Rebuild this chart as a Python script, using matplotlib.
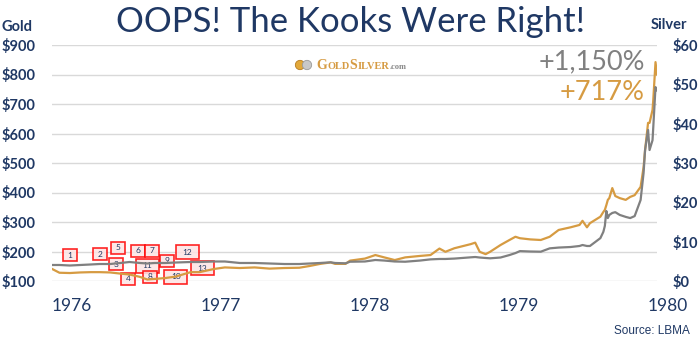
import matplotlib.pyplot as plt
from matplotlib.patches import Rectangle

# readings (decimal year, gold $/oz, silver $/oz)
years = [1976.00, 1976.05, 1976.12, 1976.19, 1976.26, 1976.32, 1976.39, 1976.46,
         1976.52, 1976.59, 1976.64, 1976.69, 1976.76, 1976.83, 1976.93, 1976.99,
         1977.09, 1977.16, 1977.26, 1977.36, 1977.46, 1977.56, 1977.66, 1977.73,
         1977.80, 1977.87, 1977.90, 1977.97, 1978.00, 1978.10, 1978.17, 1978.23,
         1978.30, 1978.37, 1978.47, 1978.54, 1978.60, 1978.64, 1978.70, 1978.81,
         1978.84, 1978.87, 1978.91, 1978.94, 1979.01, 1979.07, 1979.11, 1979.14,
         1979.21, 1979.28, 1979.34, 1979.40, 1979.48, 1979.54, 1979.56, 1979.59,
         1979.61, 1979.68, 1979.70, 1979.71, 1979.72, 1979.73, 1979.74, 1979.76,
         1979.78, 1979.81, 1979.85, 1979.88, 1979.91, 1979.95, 1979.97, 1979.98,
         1980.00, 1980.01, 1980.03, 1980.035, 1980.05, 1980.06]
gold = [141, 128, 127, 129, 130, 130, 129, 125, 122, 114, 105, 107, 110, 115,
        130, 130, 141, 146, 144, 146, 142, 144, 145, 151, 158, 163, 158, 158,
        169, 176, 188, 180, 171, 180, 185, 188, 210, 199, 211, 225, 230, 199,
        191, 199, 222, 239, 250, 245, 241, 239, 250, 273, 282, 290, 304, 282,
        296, 318, 334, 341, 357, 375, 381, 415, 388, 381, 375, 385, 391, 419,
        486, 544, 636, 636, 680, 714, 842, 800]
silver = [4.07, 4.07, 3.94, 4.07, 4.20, 4.32, 4.32, 4.58, 4.83, 4.58, 4.45, 4.58,
          4.58, 4.70, 4.83, 4.83, 4.96, 4.96, 4.58, 4.58, 4.45, 4.32, 4.32, 4.45,
          4.58, 4.75, 4.58, 4.50, 4.90, 4.96, 5.34, 5.20, 4.96, 4.90, 5.20, 5.50,
          5.60, 5.60, 5.70, 6.02, 6.10, 5.97, 5.85, 5.77, 5.97, 6.60, 7.10, 7.60,
          7.50, 7.45, 8.30, 8.50, 8.64, 8.90, 9.15, 8.90, 8.90, 10.9, 12.5, 14.0,
          17.8, 16.0, 16.8, 17.3, 17.5, 16.8, 16.3, 16.0, 16.5, 20.6, 27.5, 33.3,
          38.4, 33.3, 35.8, 39.1, 49.3, 48.5]

# numbered event boxes (label, decimal year, gold $ at box centre)
box_labels = ['1', '2', '5', '3', '6', '7', '11', '4', '8', '9', '10', '12', '13']
box_years = [1976.12, 1976.32, 1976.44, 1976.43, 1976.58, 1976.67, 1976.64,
             1976.51, 1976.66, 1976.77, 1976.83, 1976.91, 1977.01]
box_gold = [188, 191, 212, 156, 202, 202, 151, 107, 114, 168, 114, 198, 144]

gold_ticks = [100, 200, 300, 400, 500, 600, 700, 800, 900]
silver_ticks = [0, 10, 20, 30, 40, 50, 60]
year_labels = ['1976', '1977', '1978', '1979', '1980']

NAVY = '#1F3864'
ORANGE = '#D69B42'
GREY = '#808080'

fig = plt.figure(figsize=(7, 3.42), dpi=100)
ax = fig.add_axes([52 / 700, 61 / 342, 605 / 700, 236 / 342])
ax2 = ax.twinx()

# event boxes
for lab, x, y in zip(box_labels, box_years, box_gold):
    w = 14 / 149 if len(lab) == 1 else 23 / 149
    h = 12 * 800 / 236 if len(lab) == 1 else 14 * 800 / 236
    ax.add_patch(Rectangle((x - w / 2, y - h / 2), w, h, facecolor='#FDE4E4',
                           edgecolor='red', lw=1.2, alpha=0.85, zorder=2,
                           clip_on=False))
    ax.text(x, y, lab, ha='center', va='center', fontsize=6, color=NAVY,
            family='Lato', zorder=3)

ax.plot(years, gold, color=ORANGE, lw=1.6, zorder=4)
ax2.plot(years, silver, color=GREY, lw=1.6, zorder=4)

for a in (ax, ax2):
    for s in a.spines.values():
        s.set_visible(False)

ax.set_yticks(gold_ticks)
ax.set_yticklabels(['$%d' % v for v in gold_ticks])
ax.grid(axis='y', color='#D9D9D9', lw=1)
ax.set_axisbelow(True)
ax.tick_params(axis='y', length=0, pad=12, labelcolor=NAVY)
for t in ax.get_yticklabels():
    t.set_fontfamily('Lato')
    t.set_fontweight('bold')
    t.set_fontsize(10.5)

ax2.set_yticks(silver_ticks)
ax2.set_yticklabels(['$%d' % v for v in silver_ticks])
ax2.tick_params(axis='y', length=0, pad=11, labelcolor=NAVY)
for t in ax2.get_yticklabels():
    t.set_fontfamily('Lato')
    t.set_fontweight('bold')
    t.set_fontsize(10.5)

ax.set_xticks([])
ax.set_xlim(1976.0, 1980.06)
ax.set_ylim(100, 900)
ax2.set_ylim(0, 60)

# year labels sit a little past each 1 Jan, as in the original;
# the 1980 one lies past the end of the data so draw them as text
for lab in year_labels:
    ax.text(int(lab) + 0.134, -0.105, lab, transform=ax.get_xaxis_transform(),
            ha='center', va='center', fontsize=12.5, color=NAVY, family='Lato',
            clip_on=False)

fig.text(0.5, 1 - 22 / 342, 'OOPS! The Kooks Were Right!', ha='center',
         va='center', fontsize=25, color=NAVY, family='Lato')
fig.text(2 / 700, 1 - 27 / 342, 'Gold', ha='left', va='center', fontsize=10.5,
         color=NAVY, family='Lato', fontweight='bold')
fig.text(651 / 700, 1 - 25 / 342, 'Silver', ha='left', va='center', fontsize=10.5,
         color=NAVY, family='Lato', fontweight='bold')
fig.text(645 / 700, 1 - 62 / 342, '+1,150%', ha='right', va='center', fontsize=19.5,
         color=GREY, family='Lato')
fig.text(645 / 700, 1 - 93 / 342, '+717%', ha='right', va='center', fontsize=19.5,
         color=ORANGE, family='Lato')
fig.text(690 / 700, 1 - 331 / 342, 'Source: LBMA', ha='right', va='center',
         fontsize=8.5, color=NAVY, family='Liberation Sans')

# logo: two coins + small-caps style wordmark, pieces chained left to right
ax.scatter([300 / 700, 307 / 700], [1 - 65 / 342] * 2, s=[45, 45],
           c=['#E2A83A', '#C8C8C8'], edgecolors=['#B57B1E', '#999999'],
           linewidths=0.6, transform=fig.transFigure, clip_on=False, zorder=5)
logo = [('G', 10, ORANGE), ('OLD', 7.5, ORANGE), ('S', 10, ORANGE),
        ('ILVER', 7.5, ORANGE), ('.com', 6, '#888888')]
renderer = fig.canvas.get_renderer()
xpos = 316
for txt, sz, c in logo:
    t = fig.text(xpos / 700, 1 - 69 / 342, txt, ha='left', va='baseline',
                 fontsize=sz, color=c, family='Liberation Serif', fontweight='bold')
    xpos = t.get_window_extent(renderer).x1 + 0.3

fig.savefig('out.png', dpi=100)
